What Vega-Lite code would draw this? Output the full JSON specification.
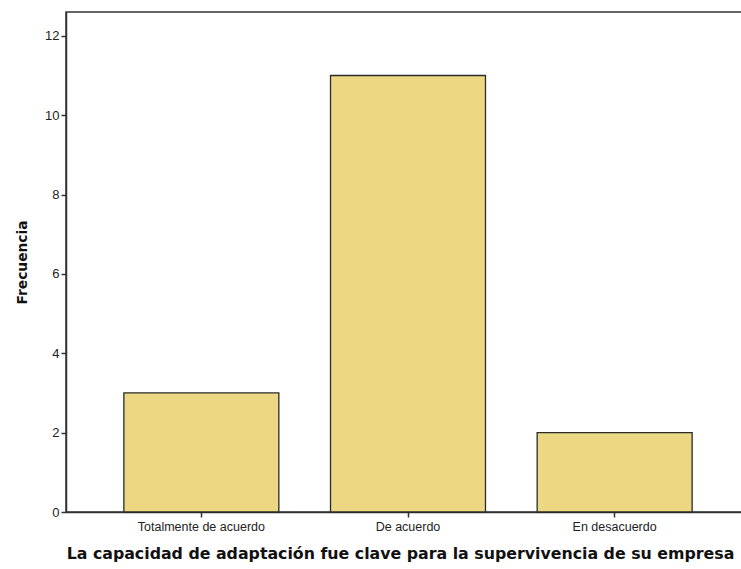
{
  "$schema": "https://vega.github.io/schema/vega-lite/v6.json",
  "autosize": "none",
  "width": 684,
  "height": 500,
  "padding": {"left": 66, "top": 12, "right": 0, "bottom": 57},
  "background": "white",
  "config": {
    "view": {"stroke": "#333", "strokeWidth": 1.5},
    "font": "Liberation Sans"
  },
  "data": {
    "values": [
      {"respuesta": "Totalmente de acuerdo", "frecuencia": 3},
      {"respuesta": "De acuerdo", "frecuencia": 11},
      {"respuesta": "En desacuerdo", "frecuencia": 2}
    ]
  },
  "mark": {"type": "bar", "fill": "#ecd883", "stroke": "#2a2a2a", "strokeWidth": 1.3},
  "encoding": {
    "x": {
      "field": "respuesta",
      "type": "nominal",
      "sort": null,
      "scale": {"paddingInner": 0.25, "paddingOuter": 0.28},
      "axis": {
        "title": "La capacidad de adaptación fue clave para la supervivencia de su empresa",
        "titleFont": "DejaVu Sans",
        "titleFontSize": 15.8,
        "titleFontWeight": "bold",
        "titleColor": "#111",
        "titlePadding": 14,
        "titleAnchor": "middle",
        "titleX": 334,
        "labelAngle": 0,
        "labelFontSize": 12.5,
        "labelColor": "#222",
        "labelPadding": 3,
        "domainColor": "#333",
        "domainWidth": 1.5,
        "tickColor": "#333",
        "tickSize": 5,
        "tickWidth": 1.5
      }
    },
    "y": {
      "field": "frecuencia",
      "type": "quantitative",
      "scale": {"domain": [0, 12.6], "nice": false},
      "axis": {
        "title": "Frecuencia",
        "values": [0, 2, 4, 6, 8, 10, 12],
        "titleFont": "DejaVu Sans",
        "titleFontSize": 13.8,
        "titleFontWeight": "bold",
        "titleColor": "#111",
        "titlePadding": 15,
        "grid": false,
        "labelFontSize": 13,
        "labelColor": "#222",
        "labelPadding": 2,
        "domainColor": "#333",
        "domainWidth": 1.5,
        "tickColor": "#333",
        "tickSize": 5,
        "tickWidth": 1.5
      }
    }
  }
}
